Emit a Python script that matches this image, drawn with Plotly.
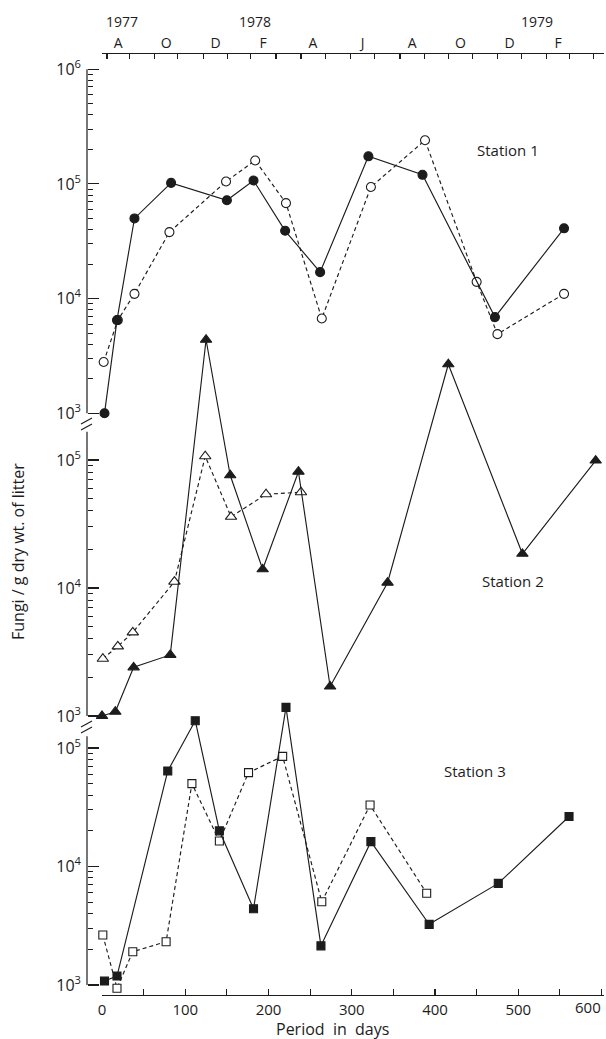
import plotly.graph_objects as go

# ---------------- data ----------------
# Station 1
s1_fill_days = [3, 18, 39, 83, 150, 182, 220, 262, 320, 385, 472, 555]
s1_fill_vals = [1000, 6500, 50000, 102000, 72000, 107000, 39000, 17000, 174000, 120000, 6900, 41000]
s1_open_days = [2, 19, 39, 81, 149, 184, 221, 264, 323, 388, 450, 475, 555]
s1_open_vals = [2800, 6500, 11000, 38000, 105000, 160000, 68000, 6700, 94000, 240000, 14000, 4900, 11000]
# Station 2
s2_fill_days = [0, 16, 38, 82, 125, 154, 193, 236, 274, 343, 416, 505, 593]
s2_fill_vals = [1000, 1080, 2400, 3000, 870000, 76000, 14000, 81000, 1700, 11000, 560000, 18500, 99000]
s2_open_days = [1, 19, 37, 87, 124, 155, 197, 239]
s2_open_vals = [2800, 3500, 4500, 11200, 107000, 36000, 54000, 56000]
# Station 3
s3_fill_days = [3, 18, 79, 112, 141, 182, 221, 263, 323, 393, 476, 561]
s3_fill_vals = [1080, 1190, 64000, 170000, 20000, 4400, 220000, 2140, 16200, 3250, 7200, 26400]
s3_open_days = [1, 18, 37, 77, 108, 141, 176, 217, 264, 322, 390]
s3_open_vals = [2640, 940, 1910, 2320, 50000, 16400, 62000, 85000, 5040, 33000, 5940]

# axis ticks / labels
day_ticks = [0, 100, 200, 300, 400, 500, 600]
day_labels = ["0", "100", "200", "300", "400", "500", "600"]
month_tick_days = [6, 33, 63, 91, 122, 151, 178, 209, 239, 268, 299,
                   327, 358, 387, 416, 445, 475, 504, 534, 562, 590]
month_labels = ["A", "O", "D", "F", "A", "J", "A", "O", "D", "F"]
year_labels = ["1977", "1978", "1979"]
year_days = [24, 184, 522]
station_labels = ["Station 1", "Station 2", "Station 3"]
decade_vals = [1e3, 1e4, 1e5, 1e6]
decade_text = ["10<sup>3</sup>", "10<sup>4</sup>", "10<sup>5</sup>", "10<sup>6</sup>"]

# ---------------- layout geometry ----------------
# the page body margin is removed (post_script), so figure pixels = window pixels
OFF = 0
W, H = 606, 1039
PLOT_L, PLOT_R, PLOT_T, PLOT_B = 56, 604, 53, 995  # window pixels
ML, MR = PLOT_L - OFF, W + OFF - PLOT_R
MT, MB = PLOT_T - OFF, H + OFF - PLOT_B
PW, PH = PLOT_R - PLOT_L, PLOT_B - PLOT_T


def fx(px):
    return (px - PLOT_L) / PW


def fy(py):
    return (PLOT_B - py) / PH


# panels: pixel of 10^3, pixels per decade, log range, top of drawn axis (log)
panels = [
    dict(py3=413.3, dec=114.7, lo=2.88, hi=6.14, top=6.0, label_px=(508, 150)),
    dict(py3=716.0, dec=128.0, lo=2.90, hi=6.00, top=5.22, label_px=(513, 581)),
    dict(py3=985.0, dec=118.5, lo=2.916, hi=5.42, top=5.10, label_px=(475, 771)),
]


def py_of(p, L):
    return p["py3"] - (L - 3) * p["dec"]


ink = "#1c1c1c"
FONT = "Open Sans"
AX_X = fx(87)

fig = go.Figure()


def add_series(x, y, yax, symbol, filled, dashed, size):
    fig.add_trace(go.Scatter(
        x=x, y=y, xaxis="x", yaxis=yax, mode="lines+markers",
        line=dict(color=ink, width=1.15, dash="4px,3px" if dashed else "solid"),
        marker=dict(symbol=symbol, size=size, color=ink if filled else "white",
                    line=dict(color=ink, width=1.1)),
        cliponaxis=False, showlegend=False, hoverinfo="skip"))


add_series(s1_open_days, s1_open_vals, "y", "circle", False, True, 9)
add_series(s1_fill_days, s1_fill_vals, "y", "circle", True, False, 9)
add_series(s2_open_days, s2_open_vals, "y2", "triangle-up", False, True, 10)
add_series(s2_fill_days, s2_fill_vals, "y2", "triangle-up", True, False, 10)
add_series(s3_open_days, s3_open_vals, "y3", "square", False, True, 8)
add_series(s3_fill_days, s3_fill_vals, "y3", "square", True, False, 8)

month_mid = [(month_tick_days[2 * i] + month_tick_days[2 * i + 1]) / 2
             for i in range(len(month_labels))]
# empty traces so that the top (month) axes are drawn
for xa, xs in (("x2", month_tick_days), ("x3", month_mid)):
    fig.add_trace(go.Scatter(x=xs, y=[None] * len(xs), xaxis=xa, yaxis="y",
                             mode="markers", showlegend=False, hoverinfo="skip"))

# the last bottom label sits left of its tick (page edge), so it is drawn separately
bottom_ticktext = day_labels[:-1] + [""]

layout = dict(
    width=W, height=H,
    margin=dict(l=ML, r=MR, t=MT, b=MB, pad=0),
    paper_bgcolor="white", plot_bgcolor="rgba(0,0,0,0)",
    font=dict(family=FONT, color=ink, size=13),
    showlegend=False,
    xaxis=dict(domain=[fx(102), 1.0], range=[0, 603], anchor="free", position=0,
               tickmode="array", tickvals=day_ticks, ticktext=bottom_ticktext,
               ticks="inside", ticklen=6, tickwidth=1.1, tickcolor=ink,
               minor=dict(dtick=50, ticks="inside", ticklen=6, tickwidth=1.1, tickcolor=ink),
               showline=True, linecolor=ink, linewidth=1.1,
               showgrid=False, zeroline=False, tickfont=dict(size=15),
               ticklabelstandoff=1),
    xaxis2=dict(overlaying="x", side="top", anchor="free", position=1.0,
                range=[0, 603], tickmode="array", tickvals=month_tick_days,
                ticks="inside", ticklen=5, tickwidth=1.1, tickcolor=ink,
                showticklabels=False, showline=True, linecolor=ink, linewidth=1.1,
                showgrid=False, zeroline=False),
    xaxis3=dict(overlaying="x", side="top", anchor="free", position=1.0,
                range=[0, 603], tickmode="array", tickvals=month_mid,
                ticktext=month_labels, ticks="", showline=False,
                showgrid=False, zeroline=False, tickfont=dict(size=14),
                ticklabelstandoff=2),
)

shapes = []
annotations = []
names = ["yaxis", "yaxis2", "yaxis3"]
for i, p in enumerate(panels):
    dom = [max(0.0, fy(py_of(p, p["lo"]))), min(1.0, fy(py_of(p, p["hi"])))]
    top_val = 10 ** p["top"]
    tv = [v for v in decade_vals if v <= top_val * 1.001]
    tt = [decade_text[j] for j, v in enumerate(decade_vals) if v <= top_val * 1.001]
    minor_vals = [k * v for v in decade_vals for k in range(2, 10) if k * v <= top_val]
    layout[names[i]] = dict(
        type="log", domain=dom, range=[p["lo"], p["hi"]],
        anchor="free", position=AX_X,
        tickmode="array", tickvals=tv, ticktext=tt,
        ticks="inside", ticklen=11, tickwidth=1.1, tickcolor=ink,
        minor=dict(tickmode="array", tickvals=minor_vals, ticks="inside",
                   ticklen=5, tickwidth=1.0, tickcolor=ink, showgrid=False),
        showline=False, showgrid=False, zeroline=False,
        tickfont=dict(size=16), ticklabelstandoff=6)
    # drawn axis line from 10^3 to top of axis
    shapes.append(dict(type="line", xref="paper", yref="paper",
                       x0=AX_X, x1=AX_X, y0=fy(py_of(p, 3)), y1=fy(py_of(p, p["top"])),
                       line=dict(color=ink, width=1.2)))
    lx, ly = p["label_px"]
    annotations.append(dict(text=station_labels[i], xref="paper", yref="paper",
                            x=fx(lx), y=fy(ly), xanchor="center", yanchor="middle",
                            showarrow=False, font=dict(size=15, family=FONT, color=ink)))

# axis break marks
for yb in (424, 727):
    for off in (-3, 3):
        shapes.append(dict(type="line", xref="paper", yref="paper",
                           x0=fx(81), x1=fx(92), y0=fy(yb + off + 3), y1=fy(yb + off - 3),
                           line=dict(color=ink, width=1.1)))

annotations.append(dict(text=day_labels[-1], xref="x", yref="paper",
                        x=day_ticks[-1], y=fy(996), xanchor="right", yanchor="top",
                        xshift=0, borderpad=0, showarrow=False,
                        font=dict(size=15, family=FONT, color=ink)))

for txt, d in zip(year_labels, year_days):
    annotations.append(dict(text=txt, xref="x", yref="paper", x=d, y=fy(21),
                            xanchor="center", yanchor="middle", showarrow=False,
                            font=dict(size=14, family=FONT, color=ink)))

annotations.append(dict(text="Period  in  days", xref="paper", yref="paper",
                        x=fx(332), y=fy(1029), xanchor="center", yanchor="middle",
                        borderpad=0, showarrow=False,
                        font=dict(size=16, family=FONT, color=ink)))
annotations.append(dict(text="Fungi / g dry wt. of litter", xref="paper", yref="paper",
                        x=fx(18), y=fy(552), xanchor="center", yanchor="middle",
                        textangle=-90, showarrow=False,
                        font=dict(size=16, family=FONT, color=ink)))

layout["shapes"] = shapes
layout["annotations"] = annotations
fig.update_layout(**layout)
fig.write_html("out.html",
               config={"displayModeBar": False, "staticPlot": True},
               post_script="document.body.style.margin='0';"
                           "document.documentElement.style.overflow='hidden';")
